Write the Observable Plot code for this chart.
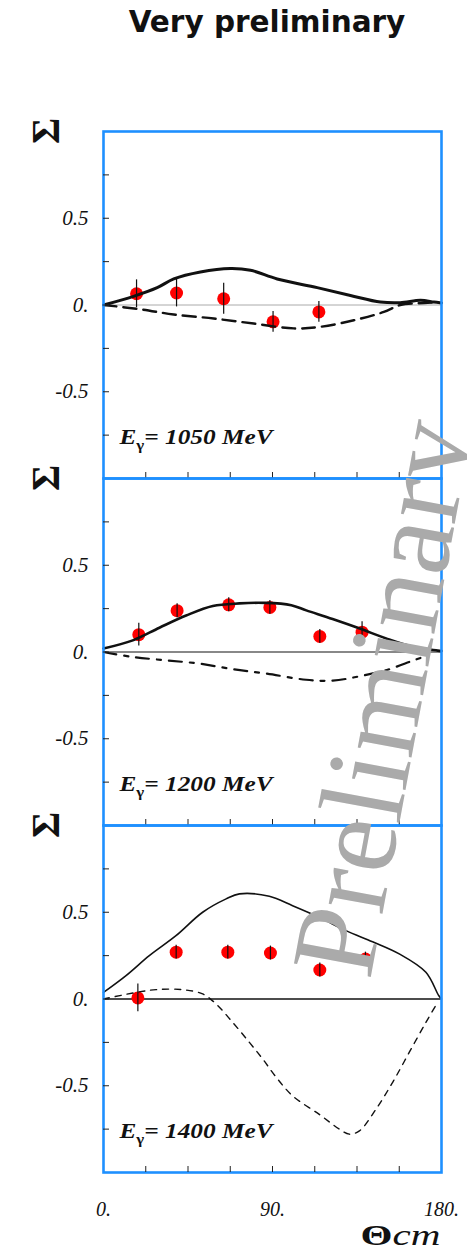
<!DOCTYPE html>
<html><head><meta charset="utf-8">
<script src="https://cdn.jsdelivr.net/npm/d3@7"></script>
<script src="https://cdn.jsdelivr.net/npm/@observablehq/plot@0.6"></script>
<style>
html,body{margin:0;padding:0;background:#fff;overflow:hidden;}
#chart{position:relative;width:467px;height:1252px;overflow:hidden;}
#title{position:absolute;left:267px;top:8px;transform:translateX(-50%);white-space:nowrap;font-family:"DejaVu Sans",sans-serif;font-weight:bold;font-size:29.5px;line-height:1;color:#111;}
.wm{font-family:"Liberation Serif","Times New Roman",serif;font-size:119px;fill:#aaa;}
</style></head><body>
<div id="chart"><div id="title">Very preliminary</div></div>
<script>
// ---- data ----
const titleText = "Very preliminary";
const watermarkText = "Preliminary";
const yAxisLabel = "Σ";
const xAxisLabel = ["Θ", "cm"];
const energies = [1050, 1200, 1400];

const xMinorTicks = [22.5, 45, 67.5, 90, 112.5, 135, 157.5];
const xLabelTicks = [0, 90, 180];
const yMinorTicks = [-0.75, -0.5, -0.25, 0, 0.25, 0.5, 0.75];
const yLabelTicks = [-0.5, 0, 0.5];

// E = 1050 MeV
const angles1 = [17.6, 38.9, 64, 90.3, 114.7];
const sigma1 = [0.065, 0.069, 0.036, -0.097, -0.04];
const errors1 = [0.08, 0.08, 0.09, 0.06, 0.06];
const solidAngle1 = [0, 16, 28.6, 37.4, 51.6, 67.6, 78.3, 92.5, 113.8, 131.5, 147.5, 158, 168.8, 176, 180];
const solidSigma1 = [0.0, 0.05, 0.10, 0.15, 0.19, 0.21, 0.20, 0.15, 0.10, 0.055, 0.017, 0.013, 0.027, 0.017, 0.012];
const dashAngle1 = [0, 19.7, 37.4, 58.7, 80, 101.3, 115.5, 133.3, 149.3, 158, 168, 176];
const dashSigma1 = [0, -0.025, -0.055, -0.078, -0.107, -0.135, -0.126, -0.088, -0.04, 0.0, 0.01, 0.015];

// E = 1200 MeV
const angles2 = [18.8, 39.2, 66.7, 88.6, 115.2, 137.7];
const sigma2 = [0.10, 0.238, 0.272, 0.257, 0.09, 0.114];
const errors2 = [0.065, 0.04, 0.04, 0.04, 0.04, 0.06];
const solidAngle2 = [0, 15.6, 29.8, 44, 58.2, 72.4, 86, 100, 108, 122, 136.5, 150.5, 164.7, 178, 180];
const solidSigma2 = [0.02, 0.067, 0.14, 0.21, 0.265, 0.28, 0.283, 0.27, 0.24, 0.19, 0.135, 0.078, 0.03, 0.008, 0.005];
const dashAngle2 = [0, 15.6, 33.4, 51.1, 68.9, 86.6, 107.9, 122.1, 136.3, 150.5, 164.7, 170];
const dashSigma2 = [0, -0.029, -0.048, -0.067, -0.099, -0.124, -0.16, -0.165, -0.14, -0.105, -0.05, -0.03];

// E = 1400 MeV
const angles3 = [18.3, 38.7, 66.2, 88.9, 115.2, 139.5];
const sigma3 = [0.006, 0.27, 0.27, 0.265, 0.167, 0.23];
const errors3 = [0.08, 0.04, 0.04, 0.04, 0.04, 0.04];
const solidAngle3 = [0, 12, 24.4, 38.6, 52.8, 65.3, 72.4, 88.3, 100.7, 114.9, 129.1, 143.3, 157.5, 171.7, 178.5, 180];
const solidSigma3 = [0.038, 0.135, 0.25, 0.365, 0.5, 0.577, 0.606, 0.592, 0.538, 0.471, 0.394, 0.33, 0.26, 0.154, 0.02, 0.0];
const dashAngle3 = [0, 17.4, 28, 42.2, 52.8, 60, 68.8, 77.7, 84.8, 91.9, 100.7, 114.9, 125.6, 130.9, 136.3, 145.1, 154, 162.8, 171.7, 177.9];
const dashSigma3 = [0, 0.038, 0.054, 0.054, 0.029, -0.029, -0.135, -0.25, -0.346, -0.45, -0.558, -0.665, -0.75, -0.779, -0.76, -0.635, -0.48, -0.308, -0.135, -0.02];

// ---- styles ----
const serif = "Liberation Serif, Times New Roman, serif";
const frameColor = "#1e90ff";
const panelStyles = [
  {solidWidth: 3, dashWidth: 2.4, dash: "13,7", zeroColor: "#aaa", zeroWidth: 1},
  {solidWidth: 2.6, dashWidth: 2.2, dash: "13,8,4,8", zeroColor: "#888", zeroWidth: 2},
  {solidWidth: 1.6, dashWidth: 1.4, dash: "6,6", zeroColor: "#111", zeroWidth: 1.5}
];

const table = (xs, ys, es) => xs.map((a, j) => ({angle: a, sigma: ys[j], err: es ? es[j] : 0}));
const panels = [
  {pts: table(angles1, sigma1, errors1), solid: table(solidAngle1, solidSigma1), dashed: table(dashAngle1, dashSigma1)},
  {pts: table(angles2, sigma2, errors2), solid: table(solidAngle2, solidSigma2), dashed: table(dashAngle2, dashSigma2)},
  {pts: table(angles3, sigma3, errors3), solid: table(solidAngle3, solidSigma3), dashed: table(dashAngle3, dashSigma3)}
];

const chart = document.getElementById("chart");
const frameTop = 131, frameH = 347;

panels.forEach((p, i) => {
  const st = panelStyles[i];
  const last = i === panels.length - 1;
  const label = `Eγ= ${energies[i]} MeV`;
  const svg = Plot.plot({
    width: 467,
    height: frameH + 10 + (last ? 80 : 10),
    marginLeft: 103, marginRight: 26, marginTop: 10, marginBottom: last ? 80 : 10,
    x: {domain: [0, 180], axis: null, label: null},
    y: {domain: [-1, 1], axis: null, label: null},
    style: {background: "transparent", overflow: "visible", fontFamily: serif, color: "#111"},
    marks: [
      Plot.ruleY([0], {stroke: st.zeroColor, strokeWidth: st.zeroWidth}),
      Plot.dot(p.pts, {x: "angle", y: "sigma", r: 6.5, fill: "#f00"}),
      Plot.line(p.solid, {x: "angle", y: "sigma", stroke: "#111", strokeWidth: st.solidWidth, curve: "catmull-rom"}),
      Plot.line(p.dashed, {x: "angle", y: "sigma", stroke: "#111", strokeWidth: st.dashWidth, strokeDasharray: st.dash, curve: "catmull-rom"}),
      Plot.ruleX(p.pts, {x: "angle", y1: d => d.sigma - d.err, y2: d => d.sigma + d.err, stroke: "#111", strokeWidth: 1.2}),
      Plot.frame({stroke: frameColor, strokeWidth: 2.6}),
      Plot.axisY({ticks: yMinorTicks, tickSize: -6, tickFormat: () => "", label: null, stroke: "#222"}),
      Plot.axisY({ticks: yLabelTicks, tickSize: 0, tickPadding: 15, label: null,
        tickFormat: d => d === 0 ? "0." : String(d), fontSize: 21, fontStyle: "italic", fontFamily: serif}),
      Plot.axisX({ticks: xMinorTicks, tickSize: -6, tickFormat: () => "", label: null, anchor: "bottom", stroke: "#222"}),
      last ? Plot.axisX({ticks: xLabelTicks, tickSize: 0, tickPadding: 29, label: null, anchor: "bottom",
        tickFormat: d => d + ".", fontSize: 20, fontStyle: "italic", fontFamily: serif}) : null,
      Plot.text([yAxisLabel], {text: d => d, frameAnchor: "top-left", dx: -73, dy: 12.5, rotate: -90,
        fontSize: 40, fontWeight: "bold", fontFamily: serif, fill: "#111"}),
      Plot.text([label], {text: d => d, frameAnchor: "bottom-left", dx: 16, dy: -35, textAnchor: "start", lineAnchor: "bottom",
        fontSize: 21, fontStyle: "italic", fontWeight: "bold", fontFamily: serif, fill: "#111"}),
      last ? Plot.text([xAxisLabel.join("")], {text: d => d, frameAnchor: "bottom-right", dx: -81, dy: 72, textAnchor: "start", lineAnchor: "bottom",
        fontSize: 30, fontFamily: serif, fill: "#111"}) : null
    ]
  });
  svg.style.position = "absolute";
  svg.style.left = "0px";
  svg.style.top = (frameTop + frameH * i - 10) + "px";
  chart.appendChild(svg);

  const s = d3.select(svg);
  const et = s.selectAll("text").filter(function() { return this.textContent === label; });
  et.text(null);
  et.append("tspan").text("E");
  et.append("tspan").attr("dy", 6).attr("font-size", 14).attr("font-style", "normal").text("γ");
  et.append("tspan").attr("dy", -6).text(`= ${energies[i]} MeV`);
  et.attr("textLength", 153).attr("lengthAdjust", "spacingAndGlyphs");

  if (last) {
    const tt = s.selectAll("text").filter(function() { return this.textContent === xAxisLabel.join(""); });
    tt.text(null);
    tt.append("tspan").attr("font-weight", "bold").text(xAxisLabel[0]);
    tt.append("tspan").attr("font-style", "italic").text(xAxisLabel[1]);
    tt.attr("textLength", 80).attr("lengthAdjust", "spacingAndGlyphs");
  }
});

document.getElementById("title").textContent = titleText;

const wm = d3.select(chart).append("svg")
  .attr("width", 467).attr("height", 1252)
  .style("position", "absolute").style("left", "0px").style("top", "0px").style("pointer-events", "none");
wm.append("text")
  .attr("class", "wm")
  .attr("transform", "translate(370,981) rotate(-79.5)")
  .text(watermarkText);
</script>
</body></html>
